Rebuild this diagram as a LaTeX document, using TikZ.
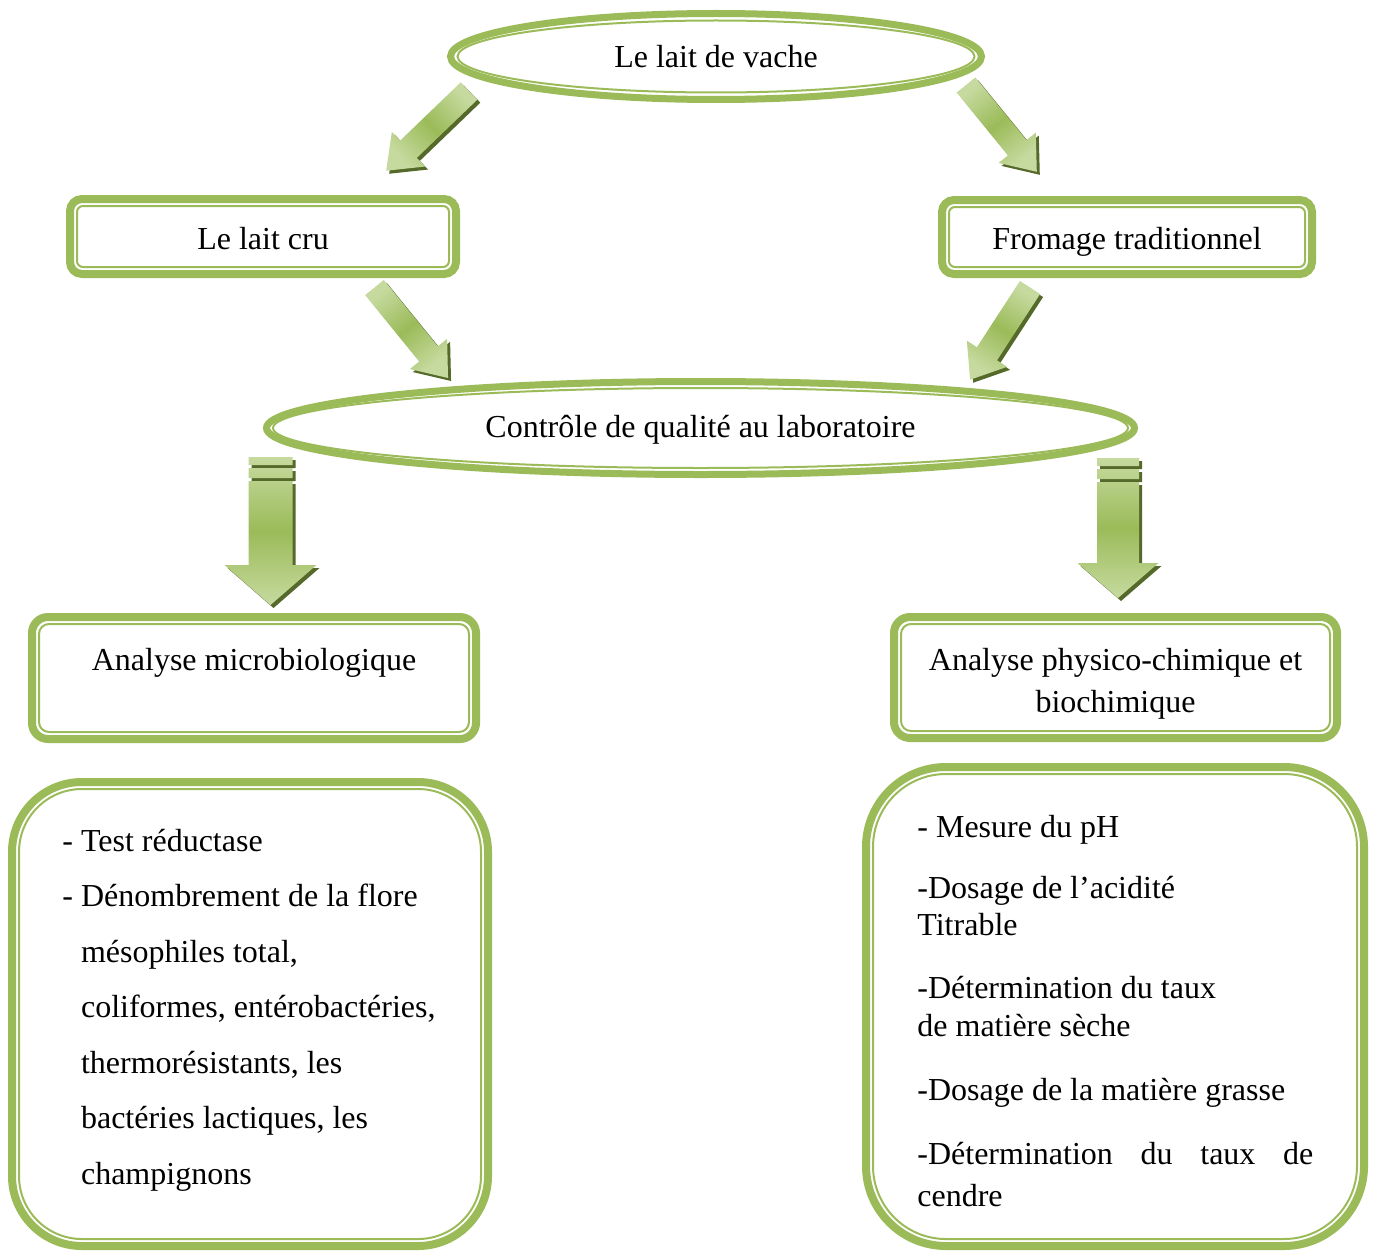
\documentclass[tikz,border=0pt]{standalone}
\usepackage{fontspec}
\setmainfont{Liberation Serif}
\usetikzlibrary{shapes.geometric}
\definecolor{gborder}{HTML}{9BBB59}
\definecolor{glight}{HTML}{C6DA9F}
\definecolor{gmid}{HTML}{9BBB59}
\definecolor{gshadow}{HTML}{55692B}
\tikzset{
  txt/.style={font=\fontsize{16}{19}\selectfont, text=black},
  outerell/.style={ellipse, draw=gborder, line width=3.5pt, outer sep=0pt, inner sep=0pt, txt, text depth=0pt},
  outerbox/.style={rectangle, draw=gborder, line width=4pt, outer sep=0pt, inner sep=0pt, txt, text depth=0pt},
  innerline/.style={draw=gborder, line width=1pt},
  arrowbody/.style={top color=glight, bottom color=glight, middle color=gmid, draw=none},
  arrowshadow/.style={fill=gshadow, draw=none},
}
\newcommand\diagarr[4]{%
  \fill[arrowshadow, shift={(#1)}, shift={(3,3)}, rotate=#2]
    (0,-12) -- ({#3-31},-12) -- ({#3-31},-24) -- (#3,0) -- ({#3-31},24) -- ({#3-31},12) -- (0,12) -- cycle;
  \shade[arrowbody, shading angle=#4, shift={(#1)}, rotate=#2]
    (0,-12) -- ({#3-31},-12) -- ({#3-31},-24) -- (#3,0) -- ({#3-31},24) -- ({#3-31},12) -- (0,12) -- cycle;
}
\newcommand\downarr[5]{%
  \fill[arrowshadow, shift={(#1)}, shift={(3,3)}]
    (-#2,0) rectangle (#2,8) (-#2,11) rectangle (#2,21)
    (-#2,24) -- (-#2,#3) -- (-#4,#3) -- (0,#5) -- (#4,#3) -- (#2,#3) -- (#2,24) -- cycle;
  \shade[arrowbody, shift={(#1)}]
    (-#2,0) rectangle (#2,8) (-#2,11) rectangle (#2,21)
    (-#2,24) -- (-#2,#3) -- (-#4,#3) -- (0,#5) -- (#4,#3) -- (#2,#3) -- (#2,24) -- cycle;
}
\begin{document}
\begin{tikzpicture}[x=0.5pt, y=-0.5pt]
\useasboundingbox (0,0) rectangle (1374,1252);

% top ellipse
\node[outerell, minimum width=265.5pt, minimum height=43pt, text height=11.5pt] (vache) at (716,56.5) {Le lait de vache};
\draw[innerline] (vache.center) ellipse [x radius=129.25pt, y radius=18pt];

% second level boxes
\node[outerbox, rounded corners=6pt, minimum width=193pt, minimum height=37.5pt, text height=12.5pt] (cru) at (263,236.5) {Le lait cru};
\draw[innerline, rounded corners=3pt] ([shift={(7,7)}]cru.north west) rectangle ([shift={(-7,-7)}]cru.south east);

\node[outerbox, rounded corners=6pt, minimum width=185pt, minimum height=37pt, text height=12pt] (fromage) at (1127,237) {Fromage traditionnel};
\draw[innerline, rounded corners=3pt] ([shift={(7,7)}]fromage.north west) rectangle ([shift={(-7,-7)}]fromage.south east);

% control ellipse
\node[outerell, minimum width=434pt, minimum height=46.5pt, text height=9.5pt] (controle) at (700.5,428) {Contrôle de qualité au laboratoire};
\draw[innerline] (controle.center) ellipse [x radius=213.75pt, y radius=20pt];

% analysis boxes
\node[outerbox, rounded corners=8pt, minimum width=222pt, minimum height=61pt, text height=0pt, text depth=8pt] (micro) at (254,678) {Analyse microbiologique};
\draw[innerline, rounded corners=5pt] ([shift={(7,7)}]micro.north west) rectangle ([shift={(-7,-7)}]micro.south east);

\node[outerbox, rounded corners=8pt, minimum width=221.5pt, minimum height=60.5pt, text height=34.5pt] (physico) at (1115.5,677.5)
  {\parbox[b]{215pt}{\centering\fontsize{16}{21}\selectfont Analyse physico-chimique et\\biochimique}};
\draw[innerline, rounded corners=5pt] ([shift={(7,7)}]physico.north west) rectangle ([shift={(-7,-7)}]physico.south east);

% large boxes
\node[outerbox, rounded corners=35pt, minimum width=238pt, minimum height=232pt] (microbox) at (250,1014) {};
\draw[innerline, rounded corners=31.5pt] ([shift={(7,7)}]microbox.north west) rectangle ([shift={(-7,-7)}]microbox.south east);

\node[outerbox, rounded corners=40pt, minimum width=249pt, minimum height=239.5pt] (physbox) at (1115,1006.5) {};
\draw[innerline, rounded corners=36.5pt] ([shift={(7,7)}]physbox.north west) rectangle ([shift={(-7,-7)}]physbox.south east);

% lists
\node[txt, anchor=base west, inner sep=0pt] (microlist) at (62,851) {\parbox[t]{210pt}{\fontsize{16}{27.75}\selectfont\raggedright
- Test réductase\\
- Dénombrement de la flore\\
\phantom{- }mésophiles total,\\
\phantom{- }coliformes, entérobactéries,\\
\phantom{- }thermorésistants, les\\
\phantom{- }bactéries lactiques, les\\
\phantom{- }champignons}};

\node[txt, anchor=base west, inner sep=0pt] (physlist) at (917,837) {\parbox[t]{210pt}{\fontsize{16}{18.75}\selectfont\raggedright
- Mesure du pH\\[11.75pt]
-Dosage de l’acidité\\
Titrable\\[12.75pt]
-Détermination du taux\\
de matière sèche\\[13.25pt]
-Dosage de la matière grasse\\[13.25pt]
\makebox[198pt][s]{-Détermination du taux de}\\[2.25pt]
cendre}};

% block arrows
\coordinate (a1) at (469,91);
\coordinate (a2) at (966,85);
\coordinate (a3) at (374.5,287.5);
\coordinate (a4) at (1030,287.5);
\diagarr{a1}{-136.1}{115}{133.9}
\diagarr{a2}{-50.8}{112}{-140.8}
\diagarr{a3}{-50.9}{116.6}{-140.9}
\diagarr{a4}{-123}{110}{147}

\coordinate (d1) at (270.5,457);
\coordinate (d2) at (1118,458);
\downarr{d1}{22}{108}{46}{148}
\downarr{d2}{21}{105}{40.5}{140}
\end{tikzpicture}
\end{document}
